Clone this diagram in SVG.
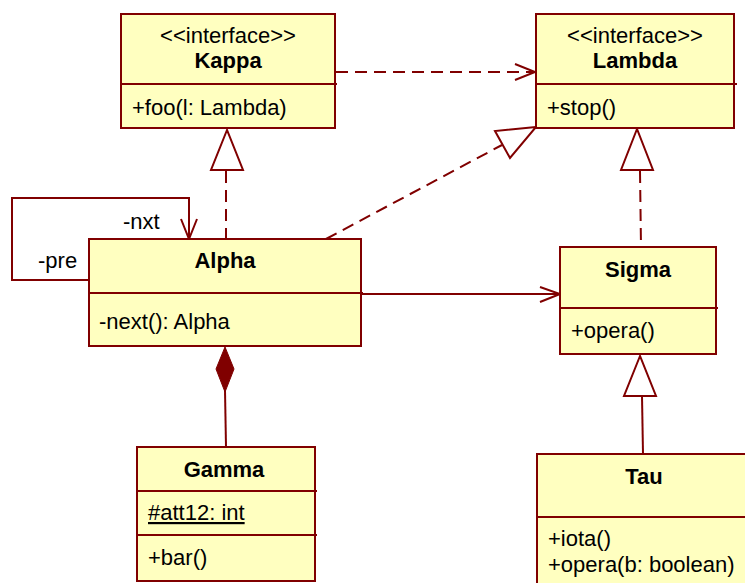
<svg xmlns="http://www.w3.org/2000/svg" width="745" height="583" viewBox="0 0 745 583">
<style>
.box{fill:#FFFFC0;stroke:#800000;stroke-width:2}
.sep{stroke:#800000;stroke-width:2}
.t{font-family:"Liberation Sans",Arial,sans-serif;font-size:22px;fill:#000}
.b{font-weight:bold;text-anchor:middle}
.c{text-anchor:middle}
.ln{fill:none;stroke:#800000;stroke-width:2}
.dash{stroke-dasharray:12,7}
.tri{fill:#fff;stroke:#800000;stroke-width:2}
</style>
<rect width="745" height="583" fill="#fff"/>
<g id="connectors">
  <!-- Kappa -> Lambda dependency -->
  <line class="ln dash" x1="336" y1="72" x2="534" y2="72"/>
  <polyline class="ln" points="515,64 535,72 515,80"/>
  <!-- Alpha -> Kappa realization -->
  <line class="ln dash" x1="226" y1="171" x2="226" y2="239"/>
  <polygon class="tri" points="227,130 211,170 243,170"/>
  <!-- Alpha -> Lambda realization -->
  <line class="ln dash" x1="326" y1="239" x2="502" y2="145"/>
  <polygon class="tri" points="536,127 495,131 510,158"/>
  <!-- Sigma -> Lambda realization -->
  <line class="ln dash" x1="640" y1="171" x2="641" y2="247"/>
  <polygon class="tri" points="637,129 621,170 653,170"/>
  <!-- Alpha self association -->
  <polyline class="ln" points="89,280 12,280 12,198 189,198 189,238"/>
  <polyline class="ln" points="181,219 189,239 197,219"/>
  <!-- Alpha -> Sigma association -->
  <line class="ln" x1="361" y1="294" x2="559" y2="294"/>
  <polyline class="ln" points="540,287 560,294 540,302"/>
  <!-- Tau -> Sigma generalization -->
  <line class="ln" x1="642" y1="396" x2="643" y2="454"/>
  <polygon class="tri" points="640,356 624,396 656,396"/>
  <!-- Alpha <>- Gamma composition -->
  <line class="ln" x1="225" y1="390" x2="226" y2="447"/>
  <polygon points="225,347 234,369 225,392 216,369" fill="#800000" stroke="#800000" stroke-width="1"/>
</g>
<g id="Kappa">
  <rect class="box" x="121" y="14" width="214" height="114"/>
  <line class="sep" x1="121" y1="84" x2="337" y2="84"/>
  <text class="t c" x="228" y="43">&lt;&lt;interface&gt;&gt;</text>
  <text class="t b" x="228" y="68">Kappa</text>
  <text class="t" x="132" y="115">+foo(l: Lambda)</text>
</g>
<g id="Lambda">
  <rect class="box" x="536" y="14" width="198" height="114"/>
  <line class="sep" x1="536" y1="84" x2="737" y2="84"/>
  <text class="t c" x="635" y="43">&lt;&lt;interface&gt;&gt;</text>
  <text class="t b" x="635" y="68">Lambda</text>
  <text class="t" x="547" y="115">+stop()</text>
</g>
<g id="Alpha">
  <rect class="box" x="89" y="239" width="272" height="107"/>
  <line class="sep" x1="89" y1="293" x2="363" y2="293"/>
  <text class="t b" x="225" y="268">Alpha</text>
  <text class="t" x="99" y="329">-next(): Alpha</text>
</g>
<g id="labels">
  <text class="t" x="123" y="229">-nxt</text>
  <text class="t" x="38" y="268">-pre</text>
</g>
<g id="Sigma">
  <rect class="box" x="560" y="247" width="156" height="107"/>
  <line class="sep" x1="560" y1="308" x2="718" y2="308"/>
  <text class="t b" x="638" y="277">Sigma</text>
  <text class="t" x="571" y="338">+opera()</text>
</g>
<g id="Gamma">
  <rect class="box" x="137" y="447" width="178" height="134"/>
  <line class="sep" x1="137" y1="491" x2="317" y2="491"/>
  <line class="sep" x1="137" y1="535" x2="317" y2="535"/>
  <text class="t b" x="224" y="477">Gamma</text>
  <text class="t" x="148" y="520" text-decoration="underline">#att12: int</text>
  <text class="t" x="148" y="565">+bar()</text>
</g>
<g id="Tau">
  <rect class="box" x="537" y="454" width="215" height="140"/>
  <line class="sep" x1="537" y1="517" x2="752" y2="517"/>
  <text class="t b" x="644" y="484">Tau</text>
  <text class="t" x="548" y="546">+iota()</text>
  <text class="t" x="548" y="572">+opera(b: boolean)</text>
</g>
</svg>
